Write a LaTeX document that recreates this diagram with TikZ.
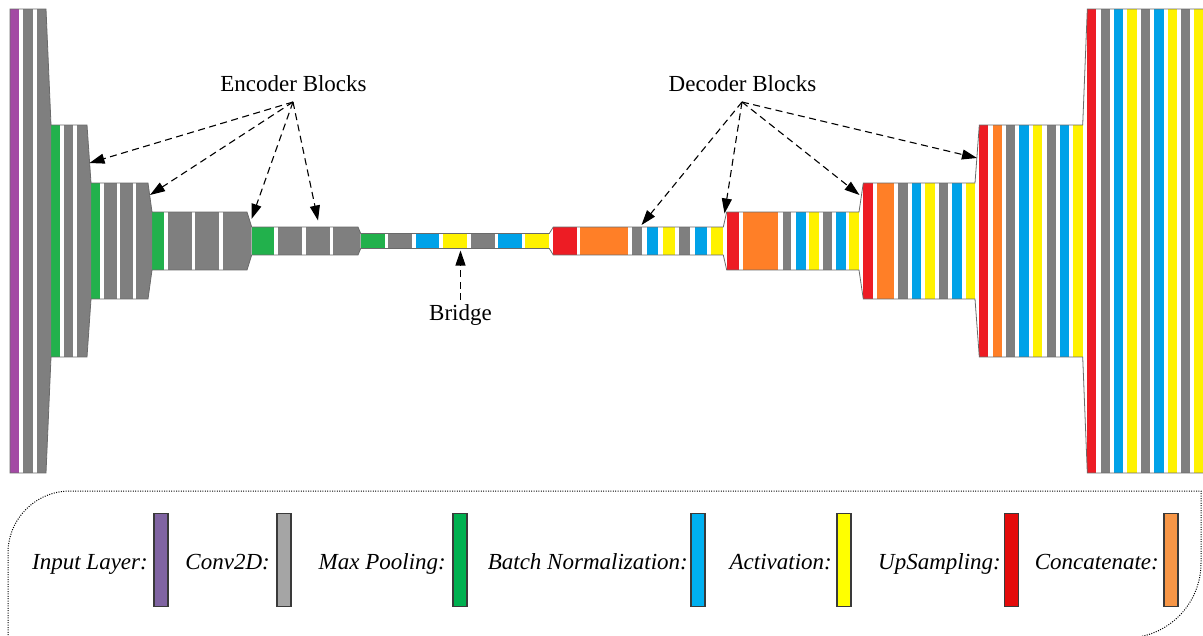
\documentclass[tikz,border=0pt]{standalone}
\usepackage{fontspec}
\setmainfont{Liberation Serif}
\usetikzlibrary{arrows.meta}

% layer colours inside the network
\definecolor{cpurple}{HTML}{A349A4}
\definecolor{cgray}{HTML}{7F7F7F}
\definecolor{cgreen}{HTML}{22B14C}
\definecolor{cblue}{HTML}{00A2E8}
\definecolor{cyellow}{HTML}{FFF200}
\definecolor{cred}{HTML}{ED1C24}
\definecolor{corange}{HTML}{FF7F27}
% legend colours
\definecolor{lpurple}{HTML}{8064A2}
\definecolor{lgray}{HTML}{A5A5A5}
\definecolor{lgreen}{HTML}{00B050}
\definecolor{lblue}{HTML}{00B0F0}
\definecolor{lyellow}{HTML}{FFFF00}
\definecolor{lred}{HTML}{E40B0B}
\definecolor{lorange}{HTML}{F79646}
\definecolor{edgecol}{HTML}{6A6A6A}
\definecolor{legedge}{HTML}{3A3A3A}

% vertical layer stripes of one block: top, bottom, list of left/right/colour
\newcommand\layerstripes[3]{\foreach \xa/\xb/\cl in {#3}{\fill[\cl] (\xa,#1) rectangle (\xb,#2);}}

\tikzset{
  outline/.style={draw=edgecol, line width=0.8pt, line join=miter},
  lbl/.style={font=\fontsize{23}{27}\selectfont, inner sep=0pt},
  leglbl/.style={font=\fontsize{23}{27}\selectfont\itshape, inner sep=0pt, anchor=base east},
  legbar/.style={draw=legedge, line width=1.3pt, minimum width=14pt, minimum height=93pt, inner sep=0pt},
  fanarrow/.style={draw=black, line width=1.1pt, dash pattern=on 7pt off 4.5pt,
    -{Triangle[length=15pt,width=10pt]}},
  legframe/.style={draw=black, line width=1pt, dash pattern=on 1pt off 1.4pt}
}

\begin{document}
\begin{tikzpicture}[x=1pt,y=-1pt]
\useasboundingbox (0,0) rectangle (1203,635);
\clip (0,0) rectangle (1203,635);

% ---------------- encoder ----------------
\layerstripes{9}{473}{10/19/cpurple, 23/33/cgray, 37/46/cgray}
\layerstripes{125}{357}{51/60/cgreen, 63.5/73/cgray, 77/87/cgray}
\layerstripes{183}{299}{91/100/cgreen, 103.5/116.5/cgray, 119.5/132.5/cgray, 135.5/148/cgray}
\layerstripes{212}{270}{152/164.3/cgreen, 168.3/191.7/cgray, 195/219/cgray, 223.3/247/cgray}
\layerstripes{227}{255}{251.7/274.3/cgreen, 277.7/302.3/cgray, 305.7/330/cgray, 333.3/358/cgray}
% tapers between encoder blocks
\fill[cgray] (46,9) -- (51,125) -- (51,357) -- (46,473) -- cycle;
\fill[cgray] (87,125) -- (91,183) -- (91,299) -- (87,357) -- cycle;
\fill[cgray] (148,183) -- (152,212) -- (152,270) -- (148,299) -- cycle;
\fill[cgray] (247,212) -- (251.7,227) -- (251.7,255) -- (247,270) -- cycle;
\fill[cgray] (358,227) -- (360.7,233.5) -- (360.7,248.5) -- (358,255) -- cycle;

% ---------------- bridge ----------------
\layerstripes{233.5}{248.5}{360.7/385/cgreen, 387.7/411.7/cgray, 415.7/439.3/cblue, 442.7/466.7/cyellow, 470.7/495/cgray, 498.3/521.7/cblue, 525/549.3/cyellow}

% ---------------- decoder ----------------
\layerstripes{227}{255}{553.3/576.7/cred, 580/628.3/corange, 631.7/641.7/cgray, 647.3/658.3/cblue, 663.3/675/cyellow, 679.3/690/cgray, 695/706.7/cblue, 710.7/723.3/cyellow}
\layerstripes{212}{270}{726.7/739.3/cred, 743.3/778.3/corange, 782.7/791/cgray, 796/805.7/cblue, 809.3/819.3/cyellow, 823.3/832.3/cgray, 836/845.7/cblue, 849.3/859/cyellow}
\layerstripes{183}{299}{863.3/872.7/cred, 876.7/894.3/corange, 898.3/908.3/cgray, 911.7/921/cblue, 925/935/cyellow, 939/948.3/cgray, 952.3/961.7/cblue, 965.7/975/cyellow}
\layerstripes{125}{357}{979.3/988.3/cred, 992.7/1001.7/corange, 1006/1015/cgray, 1019.3/1029/cblue, 1033.3/1042.3/cyellow, 1046.7/1055.7/cgray, 1060/1069/cblue, 1073.3/1082.7/cyellow}
\layerstripes{9}{473}{1087.3/1096/cred, 1100.7/1110/cgray, 1114/1123.3/cblue, 1127.3/1136.7/cyellow, 1141/1150/cgray, 1154.3/1164/cblue, 1167.7/1177.3/cyellow, 1181/1190/cgray, 1194.3/1212/cyellow}

% silhouette of the whole network
\draw[outline] (1212,9) -- (1087.3,9) -- (1082.7,125) -- (979.3,125) -- (975,183) -- (863.3,183)
  -- (859,212) -- (726.7,212) -- (723.3,227) -- (553.3,227) -- (549.3,233.5) -- (360.7,233.5)
  -- (358,227) -- (251.7,227) -- (247,212) -- (152,212) -- (148,183) -- (91,183) -- (87,125)
  -- (51,125) -- (46,9) -- (10,9) -- (10,473) -- (46,473) -- (51,357) -- (87,357) -- (91,299)
  -- (148,299) -- (152,270) -- (247,270) -- (251.7,255) -- (358,255) -- (360.7,248.5)
  -- (549.3,248.5) -- (553.3,255) -- (723.3,255) -- (726.7,270) -- (859,270) -- (863.3,299)
  -- (975,299) -- (979.3,357) -- (1082.7,357) -- (1087.3,473) -- (1212,473);

% ---------------- annotations ----------------
\node[lbl, anchor=base] (enclbl) at (293.5,91.5) {Encoder Blocks};
\node[lbl, anchor=base] (declbl) at (742.5,91.5) {Decoder Blocks};
\node[lbl, anchor=base] (brlbl) at (460.5,320) {Bridge};

\coordinate (encfan) at (293,102);
\coordinate (decfan) at (742,102);
\coordinate (brfan) at (460.5,300);
\coordinate (enctipa) at (89.5,163);
\coordinate (enctipb) at (150,195);
\coordinate (enctipc) at (251.5,219);
\coordinate (enctipd) at (318,220.5);
\coordinate (dectipa) at (641.5,225);
\coordinate (dectipb) at (724.5,213.5);
\coordinate (dectipc) at (859.5,195);
\coordinate (dectipd) at (977,158);
\coordinate (brtip) at (460.5,250.5);

\foreach \t in {enctipa,enctipb,enctipc,enctipd}{\draw[fanarrow] (encfan) -- (\t);}
\foreach \t in {dectipa,dectipb,dectipc,dectipd}{\draw[fanarrow] (decfan) -- (\t);}
\draw[fanarrow] (brfan) -- (brtip);

% ---------------- legend ----------------
\draw[legframe] (8,640) -- (8,553) arc[start angle=180, end angle=270, radius=62]
  -- (1201,491) -- (1201,563) arc[start angle=0, end angle=90, radius=75] -- cycle;

\node[legbar, fill=lpurple] (kinput) at (161,560) {};
\node[legbar, fill=lgray]   (kconv)  at (284,560) {};
\node[legbar, fill=lgreen]  (kpool)  at (460,560) {};
\node[legbar, fill=lblue]   (kbn)    at (698,560) {};
\node[legbar, fill=lyellow] (kact)   at (844,560) {};
\node[legbar, fill=lred]    (kup)    at (1011.5,560) {};
\node[legbar, fill=lorange] (kcat)   at (1171,560) {};

\node[leglbl] (tinput) at (148,569) {Input Layer:};
\node[leglbl] (tconv)  at (270,569) {Conv2D:};
\node[leglbl] (tpool)  at (446,569) {Max Pooling:};
\node[leglbl] (tbn)    at (688,569) {Batch Normalization:};
\node[leglbl] (tact)   at (832,569) {Activation:};
\node[leglbl] (tup)    at (1001,569) {UpSampling:};
\node[leglbl] (tcat)   at (1159,569) {Concatenate:};
\end{tikzpicture}
\end{document}
